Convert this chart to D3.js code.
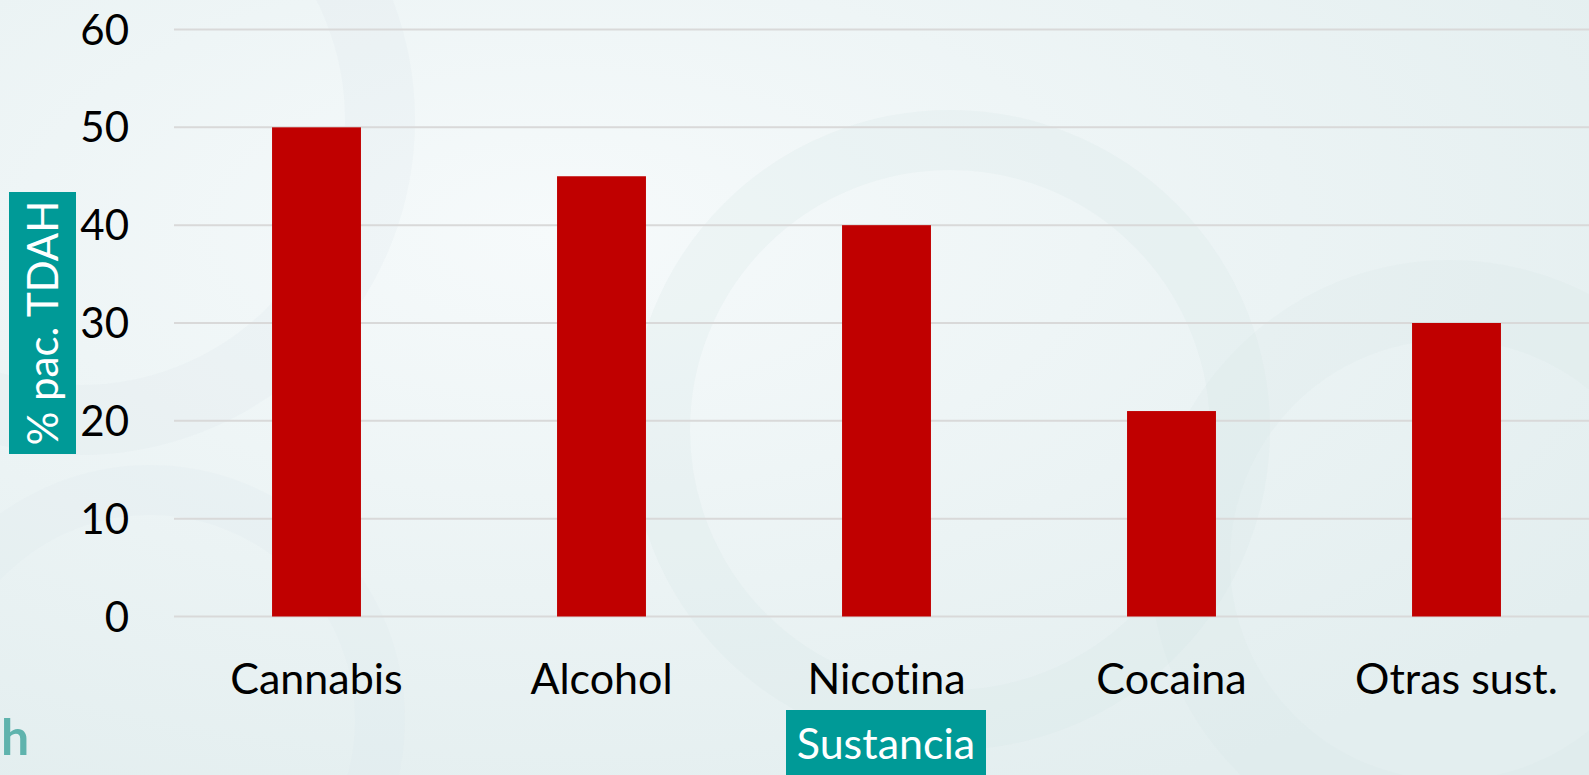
<html>
<head>
<title>Sustancia</title>
<style>
  body { margin: 0; background: #ecf3f4; overflow: hidden; }
  text { font-family: Lato, "Open Sans", sans-serif; font-variant-ligatures: none; }
</style>
</head>
<body>
<script src="https://d3js.org/d3.v7.min.js"></script>
<script>
var categories = ['Cannabis', 'Alcohol', 'Nicotina', 'Cocaina', 'Otras sust.'];
var values = [50, 45, 40, 21, 30];
var yTicks = [0, 10, 20, 30, 40, 50, 60];

var width = 1589, height = 775;

var svg = d3.select('body')
    .append('svg')
    .attr('width', width)
    .attr('height', height);

// soft background swirls
var defs = svg.append('defs');
var grad = defs.append('radialGradient').attr('id', 'bg')
    .attr('cx', '35%').attr('cy', '30%').attr('r', '80%');
grad.append('stop').attr('offset', '0%').attr('stop-color', '#f6fafb');
grad.append('stop').attr('offset', '100%').attr('stop-color', '#e3eeef');
svg.append('rect').attr('width', width).attr('height', height).attr('fill', 'url(#bg)');

var swirls = [
    {cx: 80, cy: 120, r: 300, w: 70, o: 0.18},
    {cx: 950, cy: 430, r: 290, w: 60, o: 0.25},
    {cx: 1450, cy: 560, r: 260, w: 80, o: 0.2},
    {cx: 150, cy: 720, r: 230, w: 50, o: 0.15}
];
svg.selectAll('circle.swirl').data(swirls).enter()
    .append('circle')
    .attr('class', 'swirl')
    .attr('cx', function(d) { return d.cx; })
    .attr('cy', function(d) { return d.cy; })
    .attr('r', function(d) { return d.r; })
    .attr('fill', 'none')
    .attr('stroke', '#d6e6e8')
    .attr('stroke-width', function(d) { return d.w; })
    .attr('opacity', function(d) { return d.o; });

var x = d3.scaleBand()
    .domain(categories)
    .range([174, 1599])
    .paddingInner(0.688)
    .paddingOuter(0.344);

var y = d3.scaleLinear()
    .domain([0, 60])
    .range([616.5, 29.5]);

// gridlines
svg.append('g')
    .selectAll('line')
    .data(yTicks)
    .enter()
    .append('line')
    .attr('x1', 174)
    .attr('x2', width)
    .attr('y1', function(d) { return y(d); })
    .attr('y2', function(d) { return y(d); })
    .attr('stroke', '#d9d9d9')
    .attr('stroke-width', 2);

// y tick labels
svg.append('g')
    .selectAll('text')
    .data(yTicks)
    .enter()
    .append('text')
    .attr('x', 129)
    .attr('y', function(d) { return y(d); })
    .attr('dy', '0.36em')
    .attr('text-anchor', 'end')
    .attr('font-size', 42)
    .attr('fill', '#000')
    .text(function(d) { return d; });

// bars
svg.append('g')
    .selectAll('rect')
    .data(values)
    .enter()
    .append('rect')
    .attr('x', function(d, i) { return x(categories[i]); })
    .attr('y', function(d) { return y(d); })
    .attr('width', x.bandwidth())
    .attr('height', function(d) { return y(0) - y(d); })
    .attr('fill', '#c00000');

// category labels
svg.append('g')
    .selectAll('text')
    .data(categories)
    .enter()
    .append('text')
    .attr('x', function(d) { return x(d) + x.bandwidth() / 2; })
    .attr('y', 694)
    .attr('text-anchor', 'middle')
    .attr('font-size', 43)
    .attr('fill', '#000')
    .text(function(d) { return d; });

// x axis title
svg.append('rect')
    .attr('x', 786).attr('y', 710)
    .attr('width', 200).attr('height', 70)
    .attr('fill', '#009a97');
svg.append('text')
    .attr('x', 886).attr('y', 759)
    .attr('text-anchor', 'middle')
    .attr('font-size', 43)
    .attr('fill', '#fff')
    .text('Sustancia');

// y axis title
svg.append('rect')
    .attr('x', 9).attr('y', 192)
    .attr('width', 67).attr('height', 262)
    .attr('fill', '#009a97');
svg.append('text')
    .attr('transform', 'translate(58,323) rotate(-90)')
    .attr('text-anchor', 'middle')
    .attr('font-size', 42)
    .attr('fill', '#fff')
    .text('% pac. TDAH');

// partial logo bottom-left
svg.append('text')
    .attr('x', 1).attr('y', 755)
    .attr('font-size', 50)
    .attr('font-weight', 'bold')
    .attr('fill', '#5fb3ad')
    .text('h');
</script>
</body>
</html>
